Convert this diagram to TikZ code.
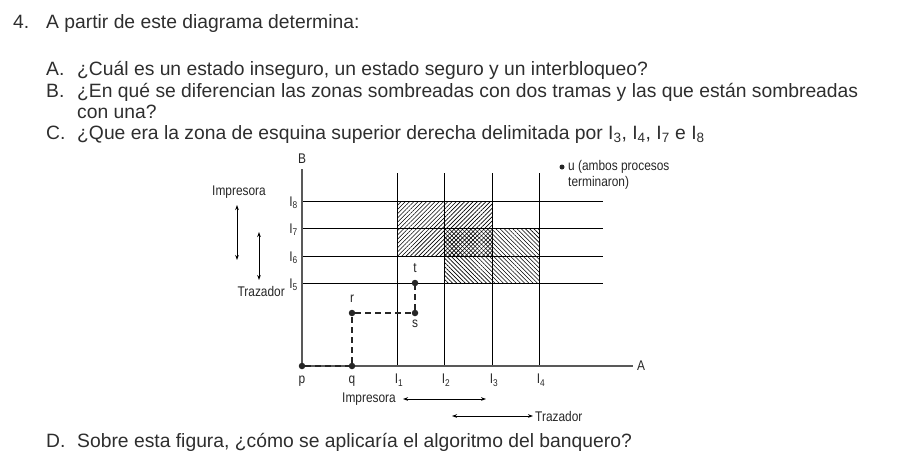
\documentclass[tikz,border=0pt]{standalone}
\usepackage{fontspec}
\setmainfont{Liberation Sans}
\newfontfamily\diagfont[FakeStretch=0.85]{Liberation Sans}
\usetikzlibrary{patterns.meta, positioning, arrows.meta}

\begin{document}
\begin{tikzpicture}[x=1pt, y=-1pt, >={Stealth[length=5pt, width=3.6pt]},
    pregunta/.style={anchor=base west, inner sep=0pt, font=\fontsize{19.3}{22}\selectfont, text=black!82},
    etiq/.style={inner sep=1pt, font=\diagfont\fontsize{14}{16}\selectfont, text=black!85},
    eje/.style={draw=black!65, line width=1.4pt},
    rejilla/.style={line width=0.9pt},
    camino/.style={line width=2.6pt, dash pattern=on 6pt off 4pt, black!85},
    punto/.style={circle, fill=black!85, inner sep=0pt, minimum size=6.5pt},
    flecha/.style={<->, line width=0.8pt}]

    % marco de la figura
    \useasboundingbox (0,0) rectangle (912,467);

    % =================================================================
    % 1. ENUNCIADO
    % =================================================================
    \node[pregunta] (num) at (13,28) {4.};
    \node[pregunta] (enun) at (46,28) {A partir de este diagrama determina:};
    \node[pregunta] (la) at (46,75) {A.};
    \node[pregunta] (ta) at (77,75) {¿Cuál es un estado inseguro, un estado seguro y un interbloqueo?};
    \node[pregunta] (lb) at (46,97) {B.};
    \node[pregunta] (tb) at (77,97) {¿En qué se diferencian las zonas sombreadas con dos tramas y las que están sombreadas};
    \node[pregunta] (tb2) at (77,118) {con una?};
    \node[pregunta] (lc) at (46,139) {C.};
    \node[pregunta] (tc) at (77,139) {¿Que era la zona de esquina superior derecha delimitada por I\textsubscript{3}, I\textsubscript{4}, I\textsubscript{7} e I\textsubscript{8}};
    \node[pregunta] (ld) at (46,447) {D.};
    \node[pregunta] (td) at (77,447) {Sobre esta figura, ¿cómo se aplicaría el algoritmo del banquero?};

    % =================================================================
    % 2. ZONAS SOMBREADAS
    % =================================================================
    % Impresora (A entre I1 e I3, B entre I6 e I8)
    \fill[pattern={Lines[angle=45, distance=3pt, line width=0.6pt]}]
        (397,201) rectangle (492,256);
    % Trazador (A entre I2 e I4, B entre I5 e I7)
    \fill[pattern={Lines[angle=-45, distance=3pt, line width=0.6pt]}]
        (444,228) rectangle (539,283);

    % =================================================================
    % 3. REJILLA Y EJES
    % =================================================================
    \foreach \i/\x in {1/397, 2/444, 3/492, 4/539} {
        \draw[rejilla] (\x,366) -- (\x,173);
        \node[etiq, anchor=north] (lx\i) at (\x+2,373) {I\textsubscript{\i}};
    }
    \foreach \i/\y in {5/283, 6/256, 7/228, 8/201} {
        \draw[rejilla] (302,\y) -- (603,\y);
        \node[etiq, anchor=east] (ly\i) at (299,\y+2) {I\textsubscript{\i}};
    }

    \coordinate (O) at (302,366);
    \coordinate (Atip) at (633,366);
    \coordinate (Btip) at (302,169);
    \draw[eje] (Btip) -- (O) -- (Atip);
    \node[etiq, anchor=west] (ejeA) at (636,366) {A};
    \node[etiq] (ejeB) at (302,159) {B};

    % =================================================================
    % 4. TRAYECTORIA p-q-r-s-t
    % =================================================================
    \node[punto] (p) at (302,366) {};
    \node[punto] (q) at (352,366) {};
    \node[punto] (r) at (352,313) {};
    \node[punto] (s) at (415,313) {};
    \node[punto] (t) at (415,283) {};
    \draw[camino] (p) -- (q) -- (r) -- (s) -- (t);

    \node[etiq] (lp) at (302,381) {p};
    \node[etiq] (lq) at (352,381) {q};
    \node[etiq] (lr) at (352,299) {r};
    \node[etiq] (ls) at (415,324) {s};
    \node[etiq] (lt) at (415,268) {t};

    % punto u
    \node[punto, minimum size=5pt] (u) at (562,167) {};
    \node[etiq, anchor=west, align=left, font=\diagfont\fontsize{14}{15.5}\selectfont] (lu) at (567,175) {u (ambos procesos\\terminaron)};

    % =================================================================
    % 5. INTERVALOS DE USO DE CADA RECURSO
    % =================================================================
    % eje vertical
    \node[etiq] (impB) at (239,192) {Impresora};
    \coordinate (impB1) at (237,205);
    \coordinate (impB2) at (237,260);
    \draw[flecha] (impB1) -- (impB2);
    \coordinate (traB1) at (259,232);
    \coordinate (traB2) at (259,280);
    \draw[flecha] (traB1) -- (traB2);
    \node[etiq, anchor=east] (traB) at (286,291) {Trazador};

    % eje horizontal
    \node[etiq] (impA) at (369,399) {Impresora};
    \coordinate (impA1) at (403,399);
    \coordinate (impA2) at (486,399);
    \draw[flecha] (impA1) -- (impA2);
    \coordinate (traA1) at (452,416);
    \coordinate (traA2) at (533,416);
    \draw[flecha] (traA1) -- (traA2);
    \node[etiq, anchor=west] (traA) at (534,416) {Trazador};

\end{tikzpicture}
\end{document}
